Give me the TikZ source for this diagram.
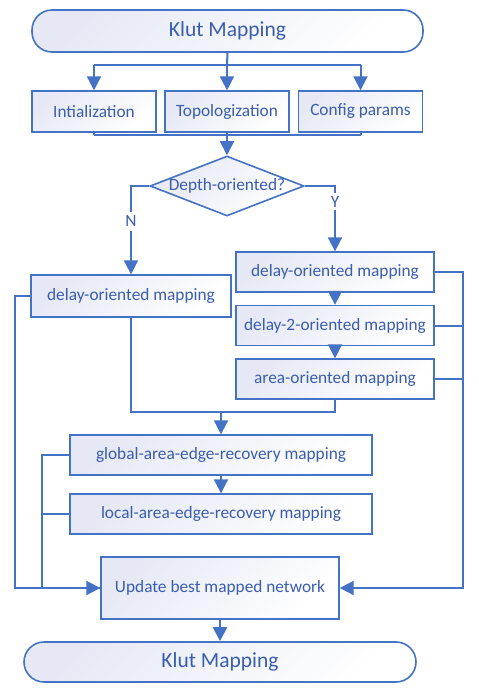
\documentclass[tikz,border=0pt]{standalone}
\usepackage{fontspec}
\setmainfont{Carlito}
\usetikzlibrary{arrows.meta,shapes.geometric}
\definecolor{lineblue}{HTML}{4472C4}
\definecolor{textblue}{HTML}{3A5DAE}
\definecolor{shadeblue}{HTML}{E6E9F5}

\begin{document}
\begin{tikzpicture}[x=1pt,y=-1pt,font=\fontsize{17.3}{20}\selectfont,text=textblue]

	\tikzstyle{mybox}=[draw=lineblue,line width=1.4pt,top color=shadeblue,bottom color=white,shading angle=45,inner sep=0pt]
	\tikzstyle{myterm}=[mybox,line width=1.6pt,rounded corners=20pt,font=\fontsize{21.5}{26}\selectfont]
	\tikzstyle{mydiam}=[mybox,diamond,line width=1.6pt]
	\tikzstyle{myline}=[draw=lineblue,line width=2pt]
	\tikzstyle{mythin}=[draw=lineblue,line width=1.2pt]
	\tikzstyle{myflow}=[myline,-{Triangle[width=14pt,length=14pt]}]

	\useasboundingbox (0,0) rectangle (479,691);

	\node[myterm,minimum width=391pt,minimum height=42pt] (start) at (227.5,31) {Klut Mapping};

	\foreach \n / \x / \t in {init/94/Intialization,topo/227/Topologization,conf/360.5/Config params}{ \node[mybox,minimum width=124pt,minimum height=41pt] (\n) at (\x,111.5) {\t};}

	\node[mydiam,minimum width=154pt,minimum height=60pt,label=center:{Depth-oriented?}] (depth) at (227,186) {};

	\node[mybox,minimum width=200pt,minimum height=42pt] (ndelay) at (131,296) {delay-oriented mapping};

	\foreach \n / \y / \t in {ydelay/272/delay-oriented mapping,ydelaytwo/325.5/delay-2-oriented mapping,yarea/379/area-oriented mapping}{ \node[mybox,minimum width=198pt,minimum height=40pt] (\n) at (335,\y) {\t};}

	\node[mybox,minimum width=302pt,minimum height=40pt] (garea) at (221,455) {global-area-edge-recovery mapping};
	\node[mybox,minimum width=302pt,minimum height=40pt] (larea) at (221,514) {local-area-edge-recovery mapping};
	\node[mybox,minimum width=238pt,minimum height=62pt] (update) at (220,588) {Update best mapped network};
	\node[myterm,minimum width=392pt,minimum height=40pt] (finish) at (220,662) {Klut Mapping};
%
	\coordinate (fork) at (227,65);
	\draw[myline] (start.south) -- (fork);
	\draw[myline] (fork -| init) -- (fork -| conf);
	\foreach \n in {init,topo,conf}{ \draw[myflow] (fork -| \n) -- (\n.north);}

	\coordinate (join) at (227,135);
	\foreach \n in {init,topo,conf}{ \draw[myline] (\n.south) -- (join -| \n);}
	\draw[myline] (join -| init) -- (join -| conf);
	\draw[myflow] (join) -- (depth.north);
%
	\draw[myflow] (depth.west) -| node[pos=0.7,fill=white,inner xsep=2pt,inner ysep=4pt] {N} (ndelay.north);
	\draw[myflow] (depth.east) -| node[pos=0.62,fill=white,inner xsep=2pt,inner ysep=3pt] {Y} (ydelay.north);
	\draw[myflow] (ydelay.south) -- (ydelaytwo.north);
	\draw[myflow] (ydelaytwo.south) -- (yarea.north);

	\coordinate (merge) at (221,412);
	\draw[myline] (ndelay.south) |- (merge) -| (yarea.south);
	\draw[myflow] (merge) -- (garea.north);
	\draw[myflow] (garea.south) -- (larea.north);
	\draw[myflow] (update.south) -- (finish.north);
%
	\coordinate (rside) at (463,588);
	\draw[myline] (ydelaytwo.east) -- (ydelaytwo.east -| rside);
	\draw[myline] (yarea.east) -- (yarea.east -| rside);
	\draw[myflow] (ydelay.east) -| (rside) -- (update.east);

	\coordinate (lside) at (15,588);
	\coordinate (lin) at (42,588);
	\draw[mythin] (ndelay.west) -| (lside) -- (update.west);
	\draw[myline] (larea.west) -- (larea.west -| lin);
	\draw[myflow] (garea.west) -| (lin) -- (update.west);
\end{tikzpicture}
\end{document}
